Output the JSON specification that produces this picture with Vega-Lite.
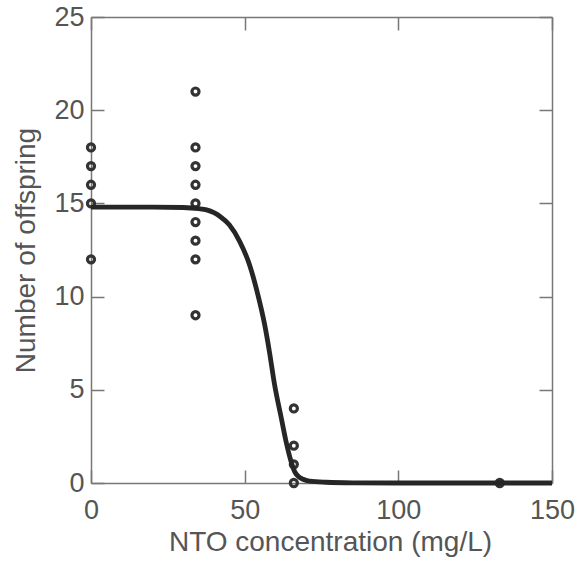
{
  "$schema": "https://vega.github.io/schema/vega-lite/v6.json",
  "width": 461,
  "height": 466,
  "autosize": "none",
  "padding": {"left": 91, "top": 17, "right": 30, "bottom": 80},
  "background": "white",
  "datasets": {
    "offspring": [
      {"conc": 0, "young": 18}, {"conc": 0, "young": 17}, {"conc": 0, "young": 16},
      {"conc": 0, "young": 15}, {"conc": 0, "young": 12},
      {"conc": 34, "young": 21}, {"conc": 34, "young": 18}, {"conc": 34, "young": 17},
      {"conc": 34, "young": 16}, {"conc": 34, "young": 15}, {"conc": 34, "young": 14},
      {"conc": 34, "young": 13}, {"conc": 34, "young": 12}, {"conc": 34, "young": 9},
      {"conc": 66, "young": 4}, {"conc": 66, "young": 2}, {"conc": 66, "young": 1},
      {"conc": 66, "young": 0},
      {"conc": 133, "young": 0}
    ],
    "fit": [
      {"conc": 0, "young": 14.8}, {"conc": 20, "young": 14.8}, {"conc": 30, "young": 14.78},
      {"conc": 35, "young": 14.72}, {"conc": 37.6, "young": 14.65}, {"conc": 40, "young": 14.5},
      {"conc": 42, "young": 14.3}, {"conc": 45, "young": 13.85}, {"conc": 48.4, "young": 12.95},
      {"conc": 51.6, "young": 11.7}, {"conc": 54.3, "young": 10.1}, {"conc": 56.5, "young": 8.5},
      {"conc": 58.1, "young": 7.0}, {"conc": 59.7, "young": 5.3}, {"conc": 61.9, "young": 3.5},
      {"conc": 63.5, "young": 2.2}, {"conc": 65.1, "young": 1.15}, {"conc": 66.3, "young": 0.6},
      {"conc": 67.5, "young": 0.35}, {"conc": 69, "young": 0.2}, {"conc": 71.1, "young": 0.1},
      {"conc": 76.5, "young": 0.04}, {"conc": 85, "young": 0.01}, {"conc": 100, "young": 0},
      {"conc": 150, "young": 0}
    ]
  },
  "layer": [
    {
      "data": {"name": "offspring"},
      "mark": {"type": "point", "shape": "circle", "filled": false, "size": 50, "strokeWidth": 3.2, "color": "#333333", "opacity": 1},
      "encoding": {
        "x": {
          "field": "conc", "type": "quantitative",
          "scale": {"domain": [0, 150], "nice": false, "zero": false},
          "axis": {"orient": "bottom", "values": [0, 50, 100, 150], "title": "NTO concentration (mg/L)", "titleX": 239, "labelPadding": 27, "titlePadding": 5}
        },
        "y": {
          "field": "young", "type": "quantitative",
          "scale": {"domain": [0, 25], "nice": false},
          "axis": {"orient": "left", "values": [0, 5, 10, 15, 20, 25], "title": "Number of offspring", "labelPadding": 20, "titlePadding": 13}
        }
      }
    },
    {
      "data": {"name": "fit"},
      "mark": {"type": "line", "color": "#262626", "strokeWidth": 4.8, "interpolate": "monotone"},
      "encoding": {
        "x": {
          "field": "conc", "type": "quantitative",
          "axis": {"orient": "top", "values": [0, 50, 100, 150], "labels": false, "title": null}
        },
        "y": {
          "field": "young", "type": "quantitative",
          "axis": {"orient": "right", "values": [0, 5, 10, 15, 20, 25], "labels": false, "title": null}
        }
      }
    }
  ],
  "resolve": {"axis": {"x": "independent", "y": "independent"}},
  "config": {
    "view": {"stroke": null},
    "axis": {
      "grid": false,
      "domainColor": "#777777",
      "domainWidth": 1.5,
      "tickColor": "#777777",
      "tickWidth": 1.5,
      "tickSize": -13,
      "labelFont": "Liberation Sans",
      "labelFontSize": 27,
      "labelColor": "#555555",
      "titleFont": "Liberation Sans",
      "titleFontSize": 28,
      "titleFontWeight": "normal",
      "titleColor": "#555555",
      "labelFlush": false,
      "labelOverlap": false
    }
  }
}
